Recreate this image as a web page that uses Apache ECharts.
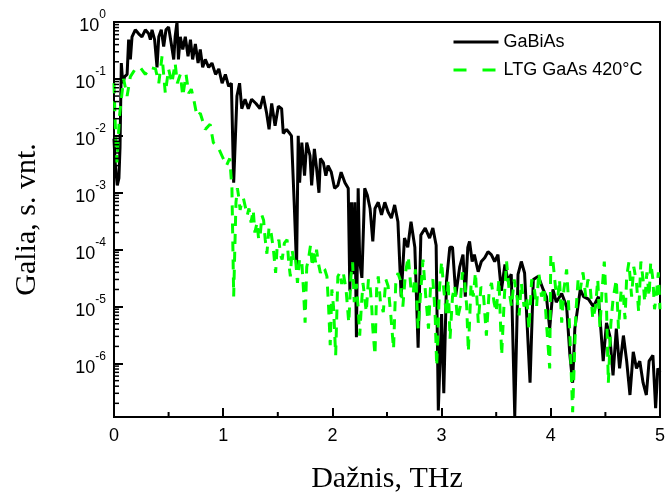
<!DOCTYPE html>
<html>
<head>
<meta charset="utf-8">
<script src="https://cdn.jsdelivr.net/npm/echarts@6/dist/echarts.min.js"></script>
<style>
html,body{margin:0;padding:0;background:#fff;}
#chart{width:668px;height:499px;}
</style>
</head>
<body>
<div id="chart"></div>
<script>
// Frequency (THz) and gain (a.u.)
const gaBiAs = [
[0.00,8.9e-3],[0.01,3.4e-3],[0.03,1.35e-3],[0.045,1.8e-3],[0.055,6.2e-3],[0.067,0.19],[0.08,0.084],[0.098,0.11],
[0.12,0.12],[0.134,0.49],[0.15,0.22],[0.165,0.55],[0.195,0.73],[0.226,0.62],[0.256,0.55],[0.287,0.73],
[0.318,0.62],[0.333,0.49],[0.348,0.73],[0.372,0.49],[0.394,0.16],[0.41,0.55],[0.433,0.73],[0.455,0.37],
[0.476,0.73],[0.50,0.82],[0.525,0.41],[0.547,0.22],[0.56,0.55],[0.577,1.0],[0.59,0.22],[0.607,0.55],
[0.63,0.33],[0.653,0.55],[0.678,0.25],[0.70,0.49],[0.72,0.22],[0.745,0.41],[0.77,0.19],[0.79,0.33],
[0.812,0.16],[0.836,0.22],[0.867,0.16],[0.897,0.19],[0.93,0.12],[0.96,0.15],[0.99,0.084],[1.02,0.12],
[1.05,0.074],[1.075,0.084],[1.096,1.5e-3],[1.126,0.05],[1.15,0.084],[1.17,0.03],[1.20,0.044],[1.23,0.03],
[1.26,0.044],[1.30,0.037],[1.337,0.03],[1.367,0.05],[1.398,0.025],[1.42,0.013],[1.444,0.037],[1.475,0.015],
[1.505,0.033],[1.535,0.03],[1.55,0.011],[1.58,0.013],[1.61,0.011],[1.625,0.01],[1.65,6.8e-4],[1.672,5e-5],
[1.687,0.01],[1.70,1.5e-3],[1.72,7.6e-3],[1.745,2e-3],[1.765,7.6e-3],[1.795,4.5e-3],[1.81,1.35e-3],[1.835,5.9e-3],
[1.855,2.7e-3],[1.877,1e-3],[1.89,4e-3],[1.917,3.4e-3],[1.94,2e-3],[1.96,3e-3],[1.99,2.3e-3],[2.02,1.2e-3],
[2.05,1.35e-3],[2.08,2.3e-3],[2.115,1.5e-3],[2.145,1.2e-3],[2.16,1.9e-5],[2.175,6.8e-4],[2.19,3.7e-5],[2.205,6.8e-4],
[2.22,2.9e-6],[2.236,1.2e-3],[2.25,6.2e-5],[2.27,3.2e-5],[2.296,1.2e-3],[2.32,9e-4],[2.345,5.3e-4],[2.37,1.4e-4],
[2.39,5.3e-4],[2.42,6.8e-4],[2.45,4.1e-4],[2.48,6.8e-4],[2.51,4.6e-4],[2.54,3.6e-4],[2.57,6.1e-4],[2.60,3.1e-4],
[2.63,1.5e-5],[2.66,1.6e-4],[2.69,1.1e-4],[2.72,3.1e-4],[2.755,1.1e-4],[2.785,1.9e-6],[2.81,1.8e-4],[2.85,2.4e-4],
[2.89,1.6e-4],[2.92,2.4e-4],[2.95,1.2e-4],[2.97,1.5e-7],[3.0,7.4e-6],[3.02,3e-7],[3.045,2.8e-5],[3.075,1.1e-4],
[3.10,1.1e-4],[3.13,1.6e-5],[3.166,5e-5],[3.196,8.2e-5],[3.217,1.5e-5],[3.24,1.1e-4],[3.256,1.4e-4],[3.28,6.2e-5],
[3.30,8.2e-5],[3.335,4.1e-5],[3.364,6.2e-5],[3.395,7.2e-5],[3.425,9.2e-5],[3.455,8.2e-5],[3.486,6.2e-5],[3.516,8.2e-5],
[3.547,1.9e-5],[3.58,5.5e-5],[3.608,2.8e-5],[3.638,3.7e-5],[3.67,1.2e-7],[3.70,3.7e-5],[3.73,6.2e-5],[3.76,3.9e-5],
[3.81,4.6e-7],[3.84,3e-5],[3.886,3.4e-5],[3.93,2e-5],[3.96,1.5e-5],[3.99,4.1e-6],[4.02,2e-5],[4.05,1.2e-5],
[4.10,1.7e-5],[4.145,1e-5],[4.175,1.4e-6],[4.20,4.6e-7],[4.22,4.1e-6],[4.27,2e-5],[4.30,1.5e-5],[4.345,1.35e-5],
[4.39,1e-5],[4.436,1.5e-5],[4.48,1.1e-6],[4.51,5.2e-6],[4.54,3.1e-6],[4.57,6.2e-7],[4.60,4.1e-6],[4.63,8.2e-7],
[4.665,3.1e-6],[4.695,1.1e-6],[4.725,2.8e-7],[4.755,1.6e-6],[4.785,8.2e-7],[4.815,1.1e-6],[4.845,4.6e-7],[4.875,2.8e-7],
[4.90,1.1e-6],[4.935,1.4e-6],[4.96,1.65e-7],[4.98,8.2e-7],[5.0,7e-7]
];
const ltgGaAs = [
[0,0.084],[0.012,0.015],[0.027,3.4e-3],[0.05,0.022],[0.073,0.056],[0.088,0.1],[0.12,0.05],[0.15,0.11],
[0.195,0.15],[0.24,0.16],[0.287,0.12],[0.33,0.16],[0.38,0.15],[0.41,0.084],[0.44,0.25],[0.47,0.056],
[0.50,0.15],[0.53,0.084],[0.56,0.19],[0.58,0.084],[0.607,0.12],[0.63,0.05],[0.66,0.12],[0.684,0.056],
[0.708,0.066],[0.73,0.044],[0.76,0.022],[0.79,0.025],[0.836,0.013],[0.88,0.016],[0.91,7.6e-3],[0.96,5.9e-3],
[1.0,4e-3],[1.03,3e-3],[1.06,4e-3],[1.08,1.2e-3],[1.096,1.5e-5],[1.105,8e-5],[1.117,6.8e-4],[1.13,1.2e-3],
[1.14,9e-4],[1.155,5e-4],[1.17,6.8e-4],[1.185,8e-4],[1.2,7.8e-4],[1.22,4e-4],[1.236,5.3e-4],[1.255,3e-4],
[1.275,5e-4],[1.29,2e-4],[1.31,3e-4],[1.325,1.5e-4],[1.34,1.9e-4],[1.355,4e-4],[1.37,3.3e-4],[1.385,1.5e-4],
[1.4,8.5e-5],[1.42,2.5e-4],[1.44,1.9e-4],[1.46,1e-4],[1.48,3.9e-5],[1.495,1.2e-4],[1.51,1.5e-4],[1.525,8e-5],
[1.54,6.7e-5],[1.56,1.3e-4],[1.585,1.5e-4],[1.6,6e-5],[1.615,3.4e-5],[1.63,1e-4],[1.645,6.7e-5],[1.66,8e-5],
[1.68,2.6e-5],[1.7,7e-5],[1.72,6e-5],[1.735,2e-5],[1.75,5.2e-6],[1.765,5e-5],[1.78,6.7e-5],[1.8,1.2e-4],
[1.815,5e-5],[1.83,1e-4],[1.845,6e-5],[1.855,1e-4],[1.87,6e-5],[1.89,3.9e-5],[1.91,5e-5],[1.93,4.5e-5],
[1.95,3.4e-5],[1.965,1e-5],[1.98,2.1e-6],[1.995,2e-5],[2.01,1e-5],[2.03,1.4e-6],[2.05,3.4e-5],[2.07,4e-5],
[2.085,2.5e-5],[2.1,3.9e-5],[2.125,2e-5],[2.15,5.2e-6],[2.17,3.4e-5],[2.185,6e-5],[2.2,1.2e-5],[2.22,2.5e-5],
[2.235,1e-5],[2.25,3.1e-6],[2.265,1e-5],[2.28,2.6e-5],[2.295,1.5e-5],[2.31,8e-6],[2.33,3e-5],[2.345,2.3e-5],
[2.36,1e-5],[2.37,4.1e-6],[2.39,1.4e-6],[2.405,2e-5],[2.42,3.4e-5],[2.44,1.2e-5],[2.466,8e-6],[2.49,3e-5],
[2.51,2.3e-5],[2.535,7e-6],[2.56,1.8e-6],[2.58,2.5e-5],[2.6,3.9e-5],[2.62,3e-5],[2.645,1e-5],[2.67,4e-5],
[2.695,7.6e-5],[2.72,2e-5],[2.74,1.7e-5],[2.76,4.5e-5],[2.785,4.1e-6],[2.81,2e-5],[2.83,6.7e-5],[2.855,1.5e-5],
[2.88,4.1e-6],[2.9,2.5e-5],[2.92,3e-5],[2.94,8e-6],[2.955,9e-7],[2.98,2e-5],[3.0,6.2e-5],[3.02,2e-5],
[3.045,7e-6],[3.06,3e-5],[3.077,2.7e-6],[3.1,1.5e-5],[3.12,2.3e-5],[3.145,6e-6],[3.17,1e-5],[3.19,4e-5],
[3.21,3e-5],[3.23,1e-5],[3.245,1.6e-6],[3.27,2.5e-5],[3.29,1.5e-5],[3.31,4e-5],[3.336,5.2e-6],[3.36,2.2e-5],
[3.38,2e-5],[3.395,8e-6],[3.41,3.1e-6],[3.435,1.8e-5],[3.457,2.6e-5],[3.48,1.2e-5],[3.5,8e-6],[3.525,3e-5],
[3.55,1.4e-6],[3.575,1.5e-5],[3.595,6.2e-5],[3.62,1.8e-5],[3.64,1e-5],[3.665,3e-5],[3.69,1.5e-5],[3.71,7e-6],
[3.73,2.6e-5],[3.755,1e-5],[3.78,1.5e-5],[3.8,4e-6],[3.825,3e-5],[3.85,2e-5],[3.87,1e-5],[3.89,4e-5],
[3.915,1.5e-5],[3.94,2.2e-5],[3.96,5.2e-6],[3.99,8.2e-7],[4.0,8e-5],[4.02,6.2e-5],[4.045,2e-5],[4.065,1.5e-5],
[4.08,3e-5],[4.1,5.2e-6],[4.12,2e-5],[4.145,4.5e-5],[4.16,1.5e-5],[4.175,3.1e-6],[4.2,1.4e-7],[4.23,8e-6],
[4.25,3e-5],[4.27,2e-5],[4.295,4e-5],[4.32,1.5e-5],[4.34,3e-5],[4.36,2.3e-5],[4.385,6e-6],[4.41,1e-5],
[4.43,3e-5],[4.45,4.3e-6],[4.47,2e-5],[4.49,6.2e-5],[4.51,1e-5],[4.527,4.6e-7],[4.55,5e-6],[4.57,1.35e-5],
[4.6,3e-5],[4.62,4.1e-6],[4.645,2e-5],[4.665,1.5e-5],[4.68,6e-6],[4.695,3.4e-5],[4.715,6e-5],[4.74,1.5e-5],
[4.76,5e-5],[4.785,2.6e-5],[4.805,8e-6],[4.825,6.2e-5],[4.845,3e-5],[4.86,1.2e-5],[4.88,4e-5],[4.9,1.5e-5],
[4.915,6e-5],[4.935,3e-5],[4.95,9e-6],[4.965,1.5e-5],[4.985,4e-5],[5.0,9e-6]
];
const seriesNames = ['GaBiAs', 'LTG GaAs 420°C'];
const xTicks = [0, 1, 2, 3, 4, 5];
const xMinorTicks = [0.5, 1.5, 2.5, 3.5, 4.5];
const yRange = [1.15e-7, 1];
const yDecades = [-7, -6, -5, -4, -3, -2, -1];
const yMinorMultipliers = [2, 3, 4, 5, 6, 7, 8, 9];

// minor tick values on the log axis (standard 2..9 per decade)
const yMinorTicks = [];
yDecades.forEach(function (d) {
  yMinorMultipliers.forEach(function (m) {
    const v = m * Math.pow(10, d);
    if (v >= yRange[0] && v <= yRange[1]) yMinorTicks.push([xTicks[0], v]);
  });
});
const xMinorData = xMinorTicks.map(function (f) { return [f, yRange[0]]; });

const chart = echarts.init(document.getElementById('chart'), null, {renderer: 'canvas'});
const sansFont = 'Liberation Sans, Arial, sans-serif';
const serifFont = 'Liberation Serif, Times New Roman, serif';

function tickRenderer(horizontal, len, width) {
  return function (params, api) {
    const p = api.coord([api.value(0), api.value(1)]);
    const shape = horizontal
      ? {x1: p[0], y1: p[1], x2: p[0] + len, y2: p[1]}
      : {x1: p[0], y1: p[1], x2: p[0], y2: p[1] - len};
    return {type: 'line', shape: shape, style: {stroke: '#000', lineWidth: width}};
  };
}

const option = {
  backgroundColor: '#fff',
  animation: false,
  grid: {left: 114, right: 8, top: 22, bottom: 77, show: true, borderColor: '#000', borderWidth: 2},
  legend: {
    orient: 'vertical', left: 447, top: 28, itemWidth: 45, itemHeight: 14, itemGap: 10,
    itemStyle: {opacity: 0},
    textStyle: {fontFamily: sansFont, fontSize: 18, color: '#000', lineHeight: 18},
    data: [
      {name: seriesNames[0], lineStyle: {width: 3, color: '#000'}},
      {name: seriesNames[1], lineStyle: {type: [13, 16], width: 3, color: '#00ff00'}}
    ]
  },
  xAxis: {
    type: 'value', min: xTicks[0], max: xTicks[xTicks.length - 1], interval: 1,
    name: 'Dažnis, THz', nameLocation: 'middle', nameGap: 47,
    nameTextStyle: {fontFamily: serifFont, fontSize: 30, color: '#000'},
    axisLine: {lineStyle: {color: '#000', width: 2}},
    axisTick: {inside: true, length: 9, lineStyle: {color: '#000', width: 2}},
    axisLabel: {fontFamily: sansFont, fontSize: 18, color: '#000', margin: 10},
    splitLine: {show: false}
  },
  yAxis: {
    type: 'log', logBase: 10, min: yRange[0], max: yRange[1],
    name: 'Galia, s. vnt.', nameLocation: 'middle', nameGap: 72,
    nameTextStyle: {fontFamily: serifFont, fontSize: 30, color: '#000'},
    axisLine: {lineStyle: {color: '#000', width: 2}},
    axisTick: {inside: true, length: 9, lineStyle: {color: '#000', width: 2}},
    axisLabel: {
      margin: 8, color: '#000', showMinLabel: false,
      formatter: function (v) {
        const e = Math.round(Math.log10(v));
        if (Math.abs(v / Math.pow(10, e) - 1) > 0.01) return '';
        return '{b|10}{s|' + e + '}';
      },
      rich: {
        b: {fontFamily: sansFont, fontSize: 18, color: '#000', lineHeight: 26, verticalAlign: 'bottom'},
        s: {fontFamily: sansFont, fontSize: 12, color: '#000', lineHeight: 12, verticalAlign: 'top'}
      }
    },
    splitLine: {show: false}
  },
  series: [
    {name: seriesNames[0], type: 'line', data: gaBiAs, symbol: 'none', smooth: false,
      lineStyle: {color: '#000', width: 3}, itemStyle: {color: '#000'}, z: 2},
    {name: seriesNames[1], type: 'line', data: ltgGaAs, symbol: 'none', smooth: false,
      lineStyle: {color: '#00ff00', width: 3, type: [10, 8]}, itemStyle: {color: '#00ff00'}, z: 3},
    {name: 'yMinor', type: 'custom', data: yMinorTicks, renderItem: tickRenderer(true, 5, 1.5),
      silent: true, clip: false, z: 5},
    {name: 'xMinor', type: 'custom', data: xMinorData, renderItem: tickRenderer(false, 5, 2),
      silent: true, clip: false, z: 5}
  ]
};
chart.setOption(option);
</script>
</body>
</html>
